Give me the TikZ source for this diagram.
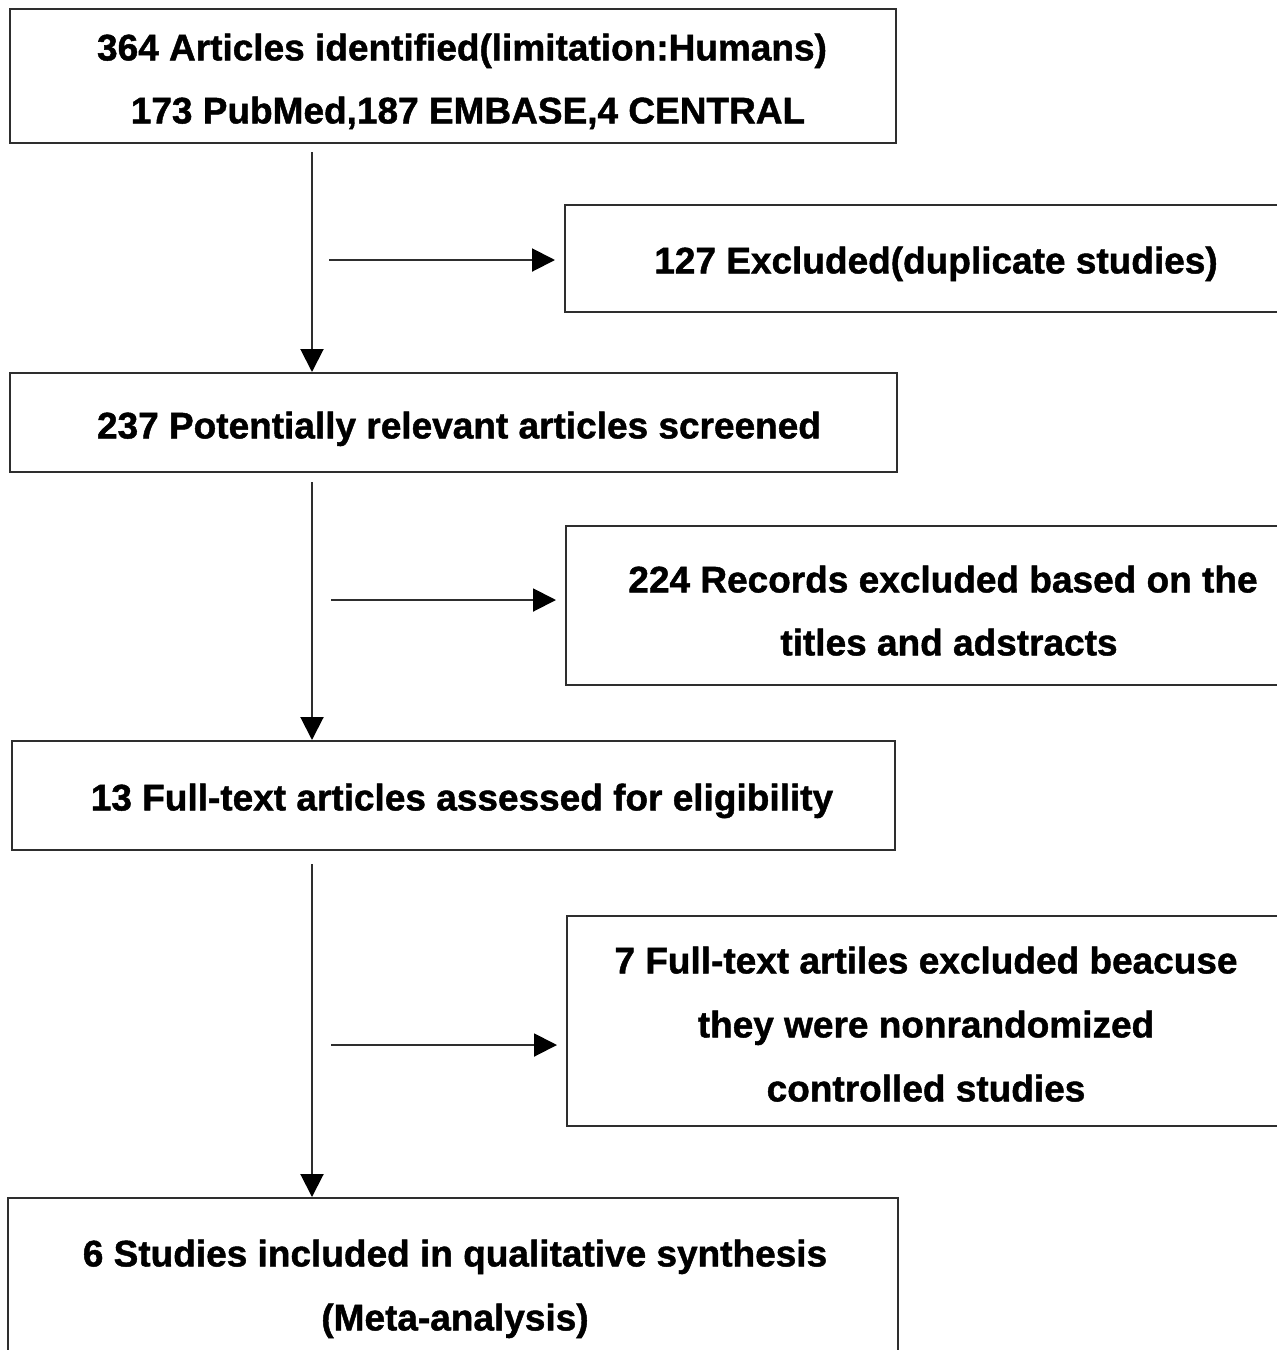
\documentclass[tikz,border=0pt]{standalone}
\usepackage{fontspec}
\setmainfont{Liberation Sans}[BoldFeatures={FakeBold=1.2}]
\usetikzlibrary{arrows.meta}
\definecolor{edge}{HTML}{2E2E2E}
\tikzset{
  box/.style={draw=edge, line width=2pt, rectangle, inner sep=0pt},
  txt/.style={font=\fontsize{37}{63}\selectfont\bfseries, align=center, inner sep=0pt, text depth=0pt},
  arr/.style={draw=edge, line width=2pt, -{Triangle[length=23pt,width=23pt,fill=black,color=black]}},
}
\begin{document}
\begin{tikzpicture}[x=1pt,y=-1pt]
\useasboundingbox (0,0) rectangle (1277,1350);
\clip (0,0) rectangle (1277,1350);
% main boxes
\node[box, minimum width=886pt, minimum height=134pt] (b1) at (453,76) {};
\node[box, minimum width=887pt, minimum height=99pt] (b2) at (453.5,422.5) {};
\node[box, minimum width=883pt, minimum height=109pt] (b3) at (453.5,795.5) {};
\node[box, minimum width=890pt, minimum height=200pt] (b4) at (453,1298) {};
% side boxes
\node[box, minimum width=735pt, minimum height=107pt] (r1) at (932.5,258.5) {};
\node[box, minimum width=734pt, minimum height=159pt] (r2) at (933,605.5) {};
\node[box, minimum width=733pt, minimum height=210pt] (r3) at (933.5,1021) {};
% texts
\node[txt] (t1a) at (462,47) {364 Articles identified(limitation:Humans)};
\node[txt] (t1b) at (468,110) {173 PubMed,187 EMBASE,4 CENTRAL};
\node[txt] (t2) at (459,425) {237 Potentially relevant articles screened};
\node[txt] (t3) at (462,797) {13 Full-text articles assessed for eligibility};
\node[txt] (t4a) at (455,1253) {6 Studies included in qualitative synthesis};
\node[txt] (t4b) at (455,1317) {(Meta-analysis)};
\node[txt] (tr1) at (936,260) {127 Excluded(duplicate studies)};
\node[txt] (tr2a) at (943,579) {224 Records excluded based on the};
\node[txt] (tr2b) at (949,642) {titles and adstracts};
\node[txt] (tr3a) at (926,960) {7 Full-text artiles excluded beacuse};
\node[txt] (tr3b) at (926,1024) {they were nonrandomized};
\node[txt] (tr3c) at (926,1088) {controlled studies};
% connectors
\coordinate (v1) at (312,152);
\coordinate (v2) at (312,482);
\coordinate (v3) at (312,864);
\coordinate (h1) at (329,260);
\coordinate (h2) at (331,600);
\coordinate (h3) at (331,1045);
\draw[arr] (v1) -- (v1 |- b2.north);
\draw[arr] (v2) -- (v2 |- b3.north);
\draw[arr] (v3) -- (v3 |- b4.north);
\draw[arr, shorten >=9pt] (h1) -- (h1 -| r1.west);
\draw[arr, shorten >=9pt] (h2) -- (h2 -| r2.west);
\draw[arr, shorten >=9pt] (h3) -- (h3 -| r3.west);
\end{tikzpicture}
\end{document}
